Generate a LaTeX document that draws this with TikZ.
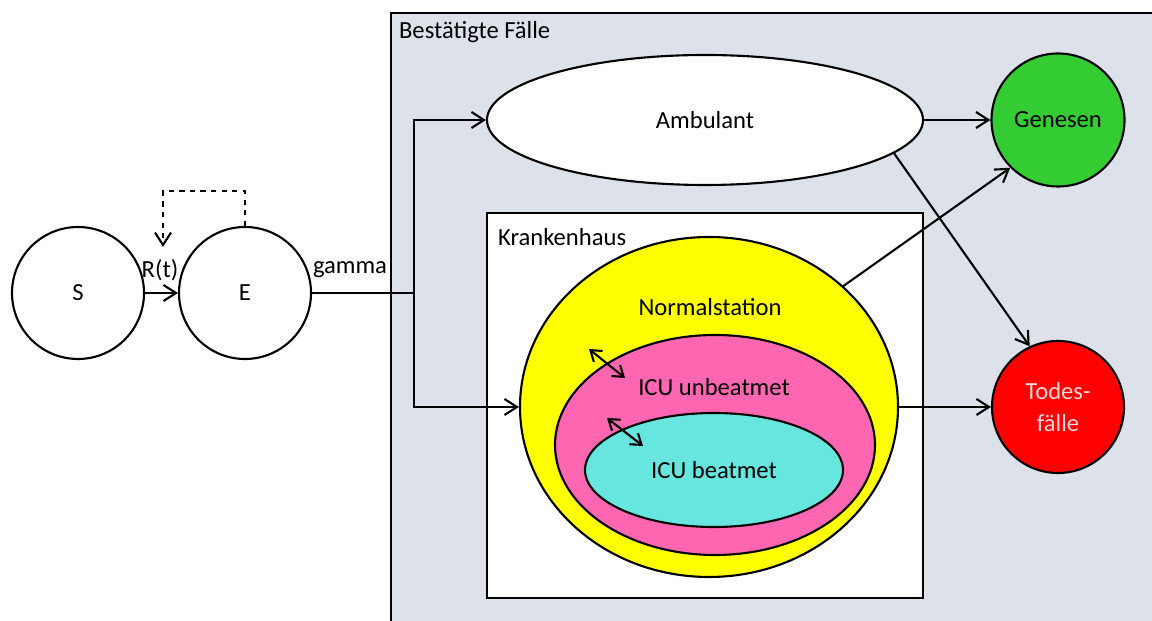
\documentclass[tikz,border=0pt]{standalone}
\usepackage{fontspec}
\setmainfont{Carlito}
\usepackage{tikz}
\usetikzlibrary{shapes.geometric}
\usetikzlibrary{arrows.meta}

\definecolor{casebg}{RGB}{220,225,234}
\definecolor{normgelb}{RGB}{255,255,0}
\definecolor{icurosa}{RGB}{255,102,178}
\definecolor{icutuerkis}{RGB}{102,230,222}
\definecolor{gruen}{RGB}{51,204,51}
\definecolor{rot}{RGB}{255,0,0}
\definecolor{hellrosa}{RGB}{255,215,215}

\tikzset{
  state/.style={circle, draw, line width=1.2pt, inner sep=0pt, minimum size=2.64cm},
  compart/.style={ellipse, draw, line width=1.2pt, inner sep=0pt},
  flow/.style={line width=1.2pt, -{Straight Barb[length=2.5mm,width=3.2mm]}},
  txt/.style={inner sep=1pt},
}

\begin{document}
\begin{tikzpicture}[font=\fontsize{14}{16}\selectfont]
    \useasboundingbox (0, 0) rectangle (23.04, 12.42);
    \fill[white] (0, 0) rectangle (23.04, 12.42);
    % Bestaetigte Faelle
    \draw[line width=1.2pt, fill=casebg] (7.82, -0.3) rectangle (23.4, 12.16);
    \node[txt, anchor=west] (bestlbl) at (7.94, 11.78) {Bestätigte Fälle};
    % Krankenhaus
    \draw[line width=1.2pt, fill=white] (9.74, 0.46) rectangle (18.46, 8.16);
    \node[txt, anchor=west] (khlbl) at (9.92, 7.68) {Krankenhaus};
    % Compartments
    \node[state, fill=white] (S) at (1.56, 6.56) {S};
    \node[state, fill=white] (E) at (4.9, 6.56) {E};
    \node[compart, fill=white, minimum width=8.72cm, minimum height=2.6cm] (amb) at (14.1, 10.02) {Ambulant};
    \node[state, fill=gruen, minimum size=2.66cm] (gen) at (21.16, 10.02) {Genesen};
    \node[state, fill=rot, text=hellrosa, align=center] (tod) at (21.16, 4.28) {Todes-\\[2pt]fälle};
    % Krankenhaus inside
    \node[compart, fill=normgelb, minimum width=7.56cm, minimum height=6.8cm] (norm) at (14.18, 4.28) {};
    \node[compart, fill=icurosa, minimum width=6.4cm, minimum height=4.4cm] (icuu) at (14.3, 3.52) {};
    \node[compart, fill=icutuerkis, minimum width=5.16cm, minimum height=2.28cm] (icub) at (14.28, 3.02) {ICU beatmet};
    \node[txt] (normlbl) at (14.2, 6.28) {Normalstation};
    \node[txt] (icuulbl) at (14.28, 4.68) {ICU unbeatmet};
    %
    % Infection
    \node[txt] (rlbl) at (3.2, 7.02) {R(t)};
    \node[txt] (glbl) at (7.0, 7.02) {gamma};
    \draw[flow] (S) -- (E);
    \draw[flow, dashed] (E.north) -- ++(0, 0.69) -| (3.26, 7.48);
    % Verteilung
    \coordinate (jn) at (8.28, 6.56);
    \draw[line width=1.2pt] (E.east) -- (jn);
    \draw[flow] (jn) |- (amb.west);
    \draw[flow] (jn) |- (norm.west);
    % Ausgaenge
    \draw[flow] (amb.east) -- (gen.west);
    \draw[flow] (amb.-10) -- (tod.115);
    \draw[flow] (norm.42) -- (gen.225);
    \draw[flow] (norm.east) -- (tod.west);
    % Wechsel innerhalb
    \coordinate (a1) at (11.78, 5.44);
    \coordinate (a2) at (12.5, 4.86);
    \coordinate (b1) at (12.14, 4.06);
    \coordinate (b2) at (12.86, 3.5);
    \draw[line width=1.2pt, {Straight Barb[length=2mm,width=2.8mm]}-{Straight Barb[length=2mm,width=2.8mm]}] (a1) -- (a2);
    \draw[line width=1.2pt, {Straight Barb[length=2mm,width=2.8mm]}-{Straight Barb[length=2mm,width=2.8mm]}] (b1) -- (b2);
\end{tikzpicture}
\end{document}
